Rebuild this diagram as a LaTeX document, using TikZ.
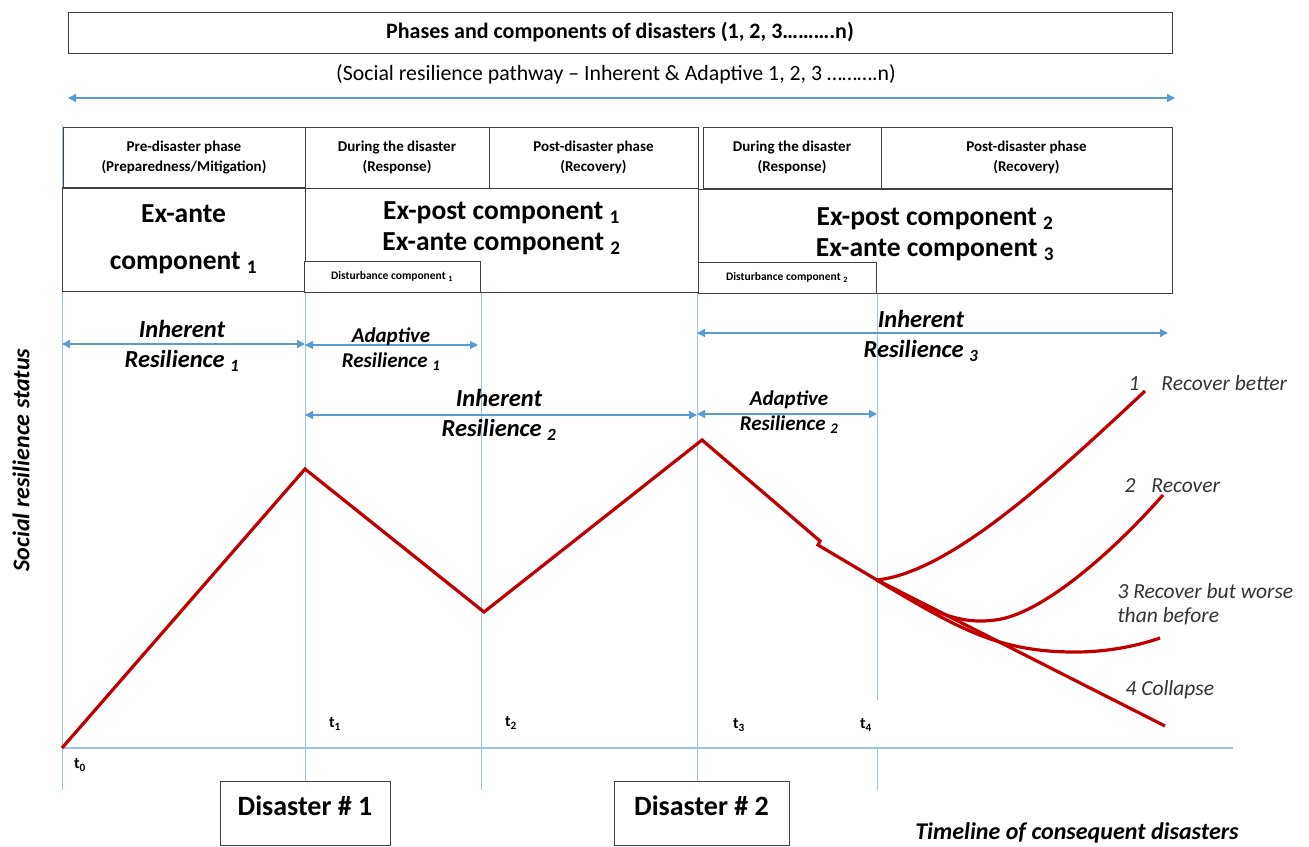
\documentclass[tikz,border=0pt]{standalone}
\usepackage{fontspec}
\setmainfont{Carlito}
\usepackage{tikz}
\usetikzlibrary{arrows.meta, calc, positioning}

\definecolor{boxgray}{HTML}{404040}
\definecolor{arrowblue}{HTML}{5B9BD5}
\definecolor{gridblue}{HTML}{9DC3E6}
\definecolor{pathred}{HTML}{C00000}
\definecolor{notegray}{HTML}{333333}

\newcommand{\setsize}[2]{\fontsize{#1}{#2}\selectfont}

\tikzset{
    box/.style={draw=boxgray, line width=1pt, inner sep=0pt, align=center},
    phasebox/.style={box, minimum height=61pt, font=\setsize{15}{20}\bfseries},
    compbox/.style={box, minimum height=104pt},
    comptext/.style={align=center, font=\setsize{27.5}{31}\bfseries},
    disturb/.style={box, fill=white, minimum width=176pt, minimum height=31pt, font=\setsize{11.5}{13}\bfseries},
    spanarrow/.style={draw=arrowblue, line width=1.3pt, {Triangle[length=8pt,width=8pt]}-{Triangle[length=8pt,width=8pt]}},
    gridline/.style={draw=gridblue, line width=0.7pt},
    reslabel/.style={align=center, font=\setsize{24.5}{30}\bfseries\itshape},
    adaptlabel/.style={align=center, font=\setsize{21}{25}\bfseries\itshape},
    outcome/.style={anchor=west, align=left, text=notegray, font=\setsize{21.5}{24}\itshape},
    tlabel/.style={font=\setsize{16}{18}\bfseries},
    disaster/.style={box, anchor=base, minimum width=170pt, text height=34pt, text depth=30pt, font=\setsize{28}{30}\bfseries},
    pathway/.style={draw=pathred, line width=3.2pt}
}

\begin{document}
\begin{tikzpicture}[x=1pt, y=-1pt]
    \fill[white] (0,0) rectangle (1309,846);
    \useasboundingbox (0,0) rectangle (1309,846);

    % guide lines and time axis
    \draw[gridline] (62,125) -- (62,790);
    \foreach \x/\yb in {305/781, 481/790, 697/781} {
        \draw[gridline] (\x,292) -- (\x,\yb);
    }
    \draw[gridline] (877,293) -- (877,700) (877,747) -- (877,790);
    \draw[gridline, line width=1.2pt] (62,748) -- (1233,748);

    % header
    \node[box, minimum width=1104pt, minimum height=41pt, font=\setsize{22}{24}\bfseries] (title) at (620,32.5) {Phases and components of disasters (1, 2, 3……….n)};
    \node[font=\setsize{21.8}{24}] (subtitle) at (616,74) {(Social resilience pathway – Inherent \& Adaptive 1, 2, 3 ……….n)};
    \coordinate (topL) at (68,98);
    \coordinate (topR) at (1175,98);
    \draw[spanarrow] (topL) -- (topR);

    % phases
    \node[phasebox, minimum width=242pt] (pre) at (184,157.5) {Pre-disaster phase\\(Preparedness/Mitigation)};
    \node[phasebox, minimum width=184pt] (during1) at (397,157.5) {During the disaster\\(Response)};
    \node[phasebox, minimum width=209pt] (post1) at (593.5,157.5) {Post-disaster phase\\(Recovery)};
    \node[phasebox, minimum width=178pt] (during2) at (792,157.5) {During the disaster\\(Response)};
    \node[phasebox, minimum width=291pt] (post2) at (1026.5,157.5) {Post-disaster phase\\(Recovery)};

    % components
    \node[compbox, minimum width=243pt, comptext, font=\setsize{27.5}{47}\bfseries] (exante1) at (183.5,239) {Ex-ante\\component \textsubscript{1}};
    \node[compbox, minimum width=393pt] (comp1) at (501.5,240) {};
    \node[comptext] (comp1txt) at (501.5,228) {Ex-post component \textsubscript{1}\\Ex-ante component \textsubscript{2}};
    \node[compbox, minimum width=474pt] (comp2) at (935,241.5) {};
    \node[comptext] (comp2txt) at (935,234) {Ex-post component \textsubscript{2}\\Ex-ante component \textsubscript{3}};
    \node[disturb] (dist1) at (392,276.5) {Disturbance component \textsubscript{1}};
    \node[disturb, minimum width=178pt] (dist2) at (787,277.5) {Disturbance component \textsubscript{2}};

    % resilience spans
    \coordinate (ir1L) at (62,344);   \coordinate (ir1R) at (305,344);
    \coordinate (ar1L) at (305,345);  \coordinate (ar1R) at (478,345);
    \coordinate (ir2L) at (305,415);  \coordinate (ir2R) at (697,415);
    \coordinate (ar2L) at (697,414);  \coordinate (ar2R) at (877,414);
    \coordinate (ir3L) at (697,333);  \coordinate (ir3R) at (1168,333);
    \draw[spanarrow] (ir1L) -- (ir1R);
    \draw[spanarrow] (ar1L) -- (ar1R);
    \draw[spanarrow] (ir2L) -- (ir2R);
    \draw[spanarrow] (ar2L) -- (ar2R);
    \draw[spanarrow] (ir3L) -- (ir3R);
    \node[reslabel] (ir1txt) at (182,346) {Inherent\\Resilience \textsubscript{1}};
    \node[adaptlabel] (ar1txt) at (391,349) {Adaptive\\Resilience \textsubscript{1}};
    \node[reslabel] (ir2txt) at (499,415) {Inherent\\Resilience \textsubscript{2}};
    \node[adaptlabel] (ar2txt) at (789,412.5) {Adaptive\\Resilience \textsubscript{2}};
    \node[reslabel] (ir3txt) at (921,336) {Inherent\\Resilience \textsubscript{3}};

    % resilience pathway
    \draw[pathway] (62,748) -- (305,469) -- (484,612) -- (702,440) -- (820,541) -- (818,545) -- (877,580);
    \draw[pathway] (877,580) .. controls (950,572) and (1050,480) .. (1145,391);
    \draw[pathway] (877,580) .. controls (930,612) and (960,625) .. (995,620) .. controls (1040,615) and (1110,555) .. (1163,495);
    \draw[pathway] (877,580) .. controls (960,630) and (1000,652) .. (1075,652) .. controls (1110,652) and (1140,645) .. (1160,638);
    \draw[pathway] (877,580) -- (1165,726);

    % outcomes
    \node[outcome] (better) at (1125,383) {1\hspace{22pt}Recover better};
    \node[outcome] (recover) at (1121,486) {2\hspace{16pt}Recover};
    \node[outcome] (worse) at (1114,604) {3 Recover but worse\\than before};
    \node[outcome] (collapse) at (1122,690) {4 Collapse};

    % time points
    \node[tlabel] (t0) at (80,765) {t\textsubscript{0}};
    \node[tlabel] (t1) at (335,724) {t\textsubscript{1}};
    \node[tlabel] (t2) at (511,723) {t\textsubscript{2}};
    \node[tlabel] (t3) at (739,725) {t\textsubscript{3}};
    \node[tlabel] (t4) at (866,725) {t\textsubscript{4}};

    % disasters and axes
    \node[disaster] (dis1) at (305,815) {Disaster \# 1};
    \node[disaster, minimum width=175pt] (dis2) at (701.5,815) {Disaster \# 2};
    \node[rotate=90, font=\setsize{24}{26}\bfseries\itshape] (ylabel) at (21,460) {Social resilience status};
    \node[font=\setsize{24}{26}\bfseries\itshape] (xlabel) at (1077,833) {Timeline of consequent disasters};
\end{tikzpicture}
\end{document}
